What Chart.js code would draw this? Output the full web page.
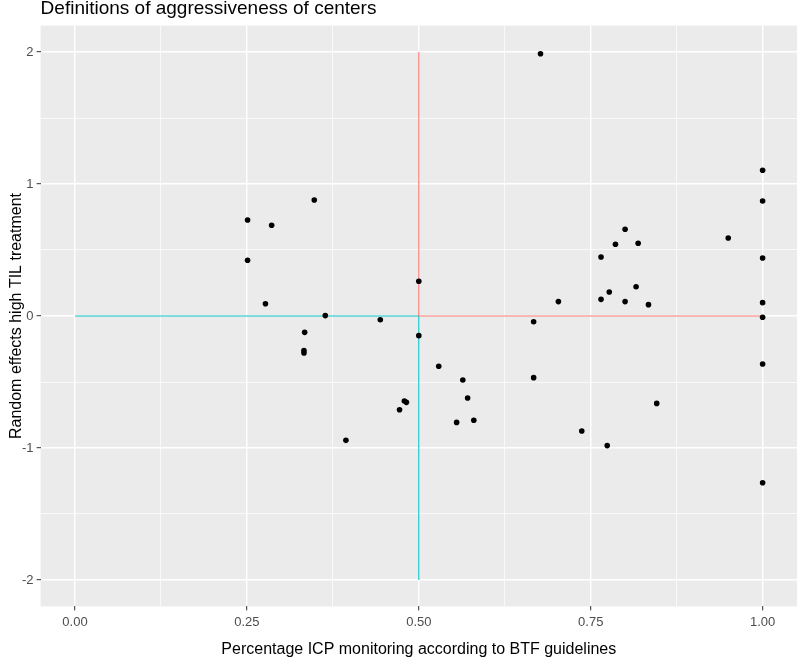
<!DOCTYPE html>
<html>
<head>
<meta charset="utf-8">
<script src="https://cdn.jsdelivr.net/npm/chart.js@4/dist/chart.umd.min.js"></script>
<style>
  html, body { margin: 0; padding: 0; background: #fff; overflow: hidden; }
  #wrap { width: 797px; height: 659px; }
  canvas { display: block; }
</style>
</head>
<body>
<div id="wrap"><canvas id="chart"></canvas></div>
<script>
// centers: share of ICP monitoring vs random effect of high TIL treatment
const icpShare = [
    0.251, 0.286, 0.348, 0.251, 0.277, 0.364, 0.444, 0.500, 0.334, 0.500,
    0.333, 0.333, 0.394,
    0.529, 0.564, 0.571, 0.479, 0.482, 0.472, 0.555, 0.580,
    0.677, 0.667, 0.667, 0.703, 0.737, 0.774, 0.765, 0.765, 0.777, 0.786,
    0.800, 0.800, 0.816, 0.819, 0.834, 0.846, 0.950,
    1.0, 1.0, 1.0, 1.0, 1.0, 1.0, 1.0
];
const randomEffect = [
    0.727, 0.687, 0.879, 0.422, 0.093, 0.003, -0.028, 0.263, -0.124, -0.149,
    -0.262, -0.280, -0.942,
    -0.381, -0.485, -0.621, -0.644, -0.654, -0.710, -0.806, -0.790,
    1.987, -0.043, -0.467, 0.109, -0.871, -0.982, 0.447, 0.126, 0.182, 0.543,
    0.657, 0.109, 0.222, 0.551, 0.086, -0.662, 0.591,
    1.104, 0.871, 0.439, 0.101, -0.010, -0.364, -1.263
];

// cut-off lines
const aggressiveX = [0.5, 0.5, 1.0];
const aggressiveY = [2, 0, 0];
const conservativeX = [0, 0.5, 0.5];
const conservativeY = [0, 0, -2];

// axis ticks
const xMajor = [0, 0.25, 0.5, 0.75, 1];
const xMinor = [0.125, 0.375, 0.625, 0.875];
const yMajor = [-2, -1, 0, 1, 2];
const yMinor = [-1.5, -0.5, 0.5, 1.5];

const FONT = "'Liberation Sans', Arial, sans-serif";

const toPoints = (xs, ys) => xs.map((x, i) => ({ x: x, y: ys[i] }));
const isMajor = (list, v) => list.some(m => Math.abs(m - v) < 1e-9);

const panelPlugin = {
    id: 'panel',
    beforeDraw(chart) {
        const { ctx, chartArea: a } = chart;
        ctx.save();
        ctx.fillStyle = '#EBEBEB';
        ctx.fillRect(a.left, a.top, a.right - a.left, a.bottom - a.top);
        ctx.restore();
    },
    afterDraw(chart) {
        const { ctx, chartArea: a } = chart;
        ctx.save();
        ctx.fillStyle = '#000';
        ctx.font = '19px ' + FONT;
        ctx.textBaseline = 'alphabetic';
        ctx.textAlign = 'left';
        ctx.fillText('Definitions of aggressiveness of centers', a.left, 14);
        ctx.restore();
    }
};

function gridFor(major) {
    return {
        color: '#FFFFFF',
        lineWidth: c => isMajor(major, c.tick.value) ? 1.4 : 0.7,
        tickColor: c => isMajor(major, c.tick.value) ? '#333333' : 'rgba(0,0,0,0)',
        tickWidth: 1,
        tickLength: 4,
        drawTicks: true
    };
}

new Chart(document.getElementById('chart'), {
    type: 'scatter',
    data: {
        datasets: [
            {
                label: 'Centers',
                data: toPoints(icpShare, randomEffect),
                backgroundColor: '#000000',
                borderWidth: 0,
                pointRadius: 2.8
            },
            {
                label: 'Aggressive',
                data: toPoints(aggressiveX, aggressiveY),
                showLine: true,
                borderColor: '#F8766D',
                borderWidth: 1.1,
                pointRadius: 0
            },
            {
                label: 'Conservative',
                data: toPoints(conservativeX, conservativeY),
                showLine: true,
                borderColor: '#00BFC4',
                borderWidth: 1.1,
                pointRadius: 0
            }
        ]
    },
    options: {
        responsive: true,
        maintainAspectRatio: false,
        animation: false,
        events: [],
        layout: { autoPadding: false, padding: { top: 25.6, left: 0, right: 0, bottom: 0 } },
        plugins: {
            legend: { display: false },
            tooltip: { enabled: false }
        },
        scales: {
            x: {
                type: 'linear',
                min: -0.05,
                max: 1.05,
                border: { display: false },
                grid: gridFor(xMajor),
                afterBuildTicks: s => {
                    s.ticks = xMajor.concat(xMinor).sort((a, b) => a - b).map(v => ({ value: v }));
                },
                afterFit: s => { s.height = 52.6; },
                ticks: {
                    autoSkip: false,
                    maxRotation: 0,
                    padding: 4,
                    color: '#4D4D4D',
                    font: { family: FONT, size: 13 },
                    callback: v => isMajor(xMajor, v) ? v.toFixed(2) : ''
                },
                title: {
                    display: true,
                    text: 'Percentage ICP monitoring according to BTF guidelines',
                    color: '#000000',
                    font: { family: FONT, size: 16 },
                    padding: { top: 0, bottom: 0 }
                }
            },
            y: {
                type: 'linear',
                min: -2.2,
                max: 2.2,
                border: { display: false },
                grid: gridFor(yMajor),
                afterBuildTicks: s => {
                    s.ticks = yMajor.concat(yMinor).sort((a, b) => a - b).map(v => ({ value: v }));
                },
                afterFit: s => { s.width = 40.6; },
                ticks: {
                    autoSkip: false,
                    padding: 3,
                    color: '#4D4D4D',
                    font: { family: FONT, size: 13 },
                    callback: v => isMajor(yMajor, v) ? String(v) : ''
                },
                title: {
                    display: true,
                    text: 'Random effects high TIL treatment',
                    color: '#000000',
                    font: { family: FONT, size: 16 },
                    padding: { top: 7, bottom: 0 }
                }
            }
        }
    },
    plugins: [panelPlugin]
});
</script>
</body>
</html>
